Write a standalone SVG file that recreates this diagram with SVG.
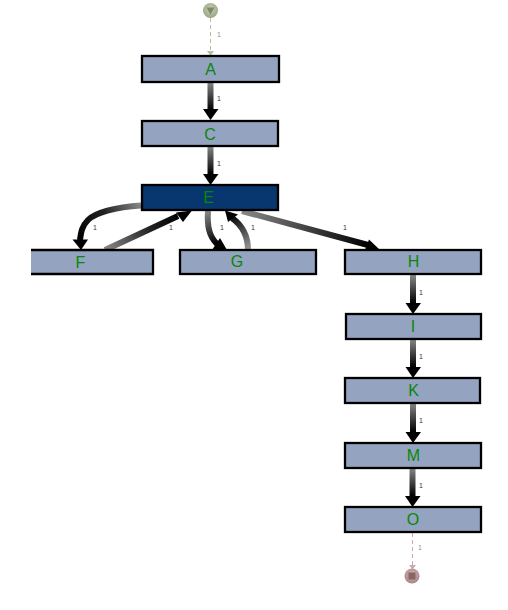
<svg xmlns="http://www.w3.org/2000/svg" width="508" height="610" viewBox="0 0 508 610">
<style>
.n{fill:#94a3bf;stroke:#000;stroke-width:2.300}
.t{font-family:"Liberation Sans",Arial,sans-serif;font-size:16px;fill:#0a860a;text-anchor:middle}
.l{font-family:"Liberation Sans",Arial,sans-serif;font-size:7px;fill:#333;text-anchor:middle}
.e{fill:none;stroke-width:6}
.h{fill:#000}
</style>
<defs>
<linearGradient id="g1" gradientUnits="userSpaceOnUse" x1="0" y1="82" x2="0" y2="110"><stop offset="0" stop-color="#888"/><stop offset="1" stop-color="#000"/></linearGradient>
<linearGradient id="g2" gradientUnits="userSpaceOnUse" x1="0" y1="146" x2="0" y2="174"><stop offset="0" stop-color="#888"/><stop offset="1" stop-color="#000"/></linearGradient>
<linearGradient id="gF" gradientUnits="userSpaceOnUse" x1="141" y1="205" x2="80" y2="240"><stop offset="0" stop-color="#888"/><stop offset=".5" stop-color="#222"/><stop offset="1" stop-color="#000"/></linearGradient>
<linearGradient id="gFE" gradientUnits="userSpaceOnUse" x1="105" y1="250" x2="180" y2="213"><stop offset="0" stop-color="#888"/><stop offset=".6" stop-color="#222"/><stop offset="1" stop-color="#000"/></linearGradient>
<linearGradient id="gG" gradientUnits="userSpaceOnUse" x1="208" y1="211" x2="218" y2="243"><stop offset="0" stop-color="#888"/><stop offset="1" stop-color="#000"/></linearGradient>
<linearGradient id="gGE" gradientUnits="userSpaceOnUse" x1="248" y1="250" x2="230" y2="216"><stop offset="0" stop-color="#999"/><stop offset="1" stop-color="#000"/></linearGradient>
<linearGradient id="gH" gradientUnits="userSpaceOnUse" x1="242" y1="211" x2="368" y2="246"><stop offset="0" stop-color="#888"/><stop offset="1" stop-color="#000"/></linearGradient>
<linearGradient id="g3" gradientUnits="userSpaceOnUse" x1="0" y1="275" x2="0" y2="303"><stop offset="0" stop-color="#888"/><stop offset="1" stop-color="#000"/></linearGradient>
<linearGradient id="g4" gradientUnits="userSpaceOnUse" x1="0" y1="339" x2="0" y2="367"><stop offset="0" stop-color="#888"/><stop offset="1" stop-color="#000"/></linearGradient>
<linearGradient id="g5" gradientUnits="userSpaceOnUse" x1="0" y1="403" x2="0" y2="432"><stop offset="0" stop-color="#888"/><stop offset="1" stop-color="#000"/></linearGradient>
<linearGradient id="g6" gradientUnits="userSpaceOnUse" x1="0" y1="468" x2="0" y2="496"><stop offset="0" stop-color="#888"/><stop offset="1" stop-color="#000"/></linearGradient>
<radialGradient id="gs" cx=".5" cy=".4" r=".6"><stop offset="0" stop-color="#c6cfb4"/><stop offset="1" stop-color="#9aa684"/></radialGradient>
<radialGradient id="ge" cx=".5" cy=".4" r=".6"><stop offset="0" stop-color="#d3b3b3"/><stop offset="1" stop-color="#ab8585"/></radialGradient>
</defs>
<g id="connectors">
<path d="M210.500 18V52" fill="none" stroke="#b2c0a2" stroke-width="1" stroke-dasharray="4 3"/>
<path d="M207 51H214L210.500 56Z" fill="#b2c0a2"/>
<path class="e" stroke="url(#g1)" d="M210.500 82V110"/><path class="h" d="M203 109H218.500L210.500 120Z"/>
<path class="e" stroke="url(#g2)" d="M210.500 146V175"/><path class="h" d="M203 174H218.500L210.500 185Z"/>
<path class="e" stroke="url(#gF)" d="M141 205.500C115 207 95 213 88 220C82 226 81 232 80 240"/><path class="h" d="M72.500 239.500H88L81 250Z"/>
<path class="e" stroke="url(#gFE)" d="M105 250L178 216"/><path class="h" d="M192 210.500L176 212.500L183 222Z"/>
<path class="e" stroke="url(#gG)" d="M208 211C207 226 209 236 217 244"/><path class="h" d="M212 250L227 250L220 238Z"/>
<path class="e" stroke="url(#gGE)" d="M248 250C248 238 243 226 232 218"/><path class="h" d="M225 210.500L228 222L238 214.500Z"/>
<path class="e" stroke="url(#gH)" d="M242 211L368 245"/><path class="h" d="M380 250L369 239.500L365 250Z"/>
<path class="e" stroke="url(#g3)" d="M413 275V304"/><path class="h" d="M405.500 303H421L413 314Z"/>
<path class="e" stroke="url(#g4)" d="M413 339V368"/><path class="h" d="M405.500 367H421L413 378Z"/>
<path class="e" stroke="url(#g5)" d="M413 403V433"/><path class="h" d="M405.500 432H421L413 443Z"/>
<path class="e" stroke="url(#g6)" d="M412.500 468V497"/><path class="h" d="M405 496H420.500L412.500 507Z"/>
<path d="M412.500 533V566" fill="none" stroke="#c8aaaa" stroke-width="1" stroke-dasharray="4 3"/>
<path d="M409 565H416L412.500 569.500Z" fill="#c8aaaa"/>
<text class="l" x="219" y="37" fill-opacity=".6">1</text>
<text class="l" x="219" y="101">1</text>
<text class="l" x="219" y="166">1</text>
<text class="l" x="95" y="230">1</text>
<text class="l" x="171" y="230">1</text>
<text class="l" x="222" y="230">1</text>
<text class="l" x="253" y="230">1</text>
<text class="l" x="345" y="230">1</text>
<text class="l" x="421" y="295">1</text>
<text class="l" x="421" y="359">1</text>
<text class="l" x="421" y="423">1</text>
<text class="l" x="421" y="488">1</text>
<text class="l" x="420" y="550" fill-opacity=".6">1</text>
</g>
<g id="start"><circle cx="210.500" cy="10.500" r="7.500" fill="url(#gs)"/><path d="M206.500 7.500H214.500L210.500 14.500Z" fill="#7c8a68"/></g>
<g id="A"><rect class="n" x="142" y="56" width="137" height="26"/><text class="t" x="210.500" y="75">A</text></g>
<g id="C"><rect class="n" x="142" y="121" width="136" height="25"/><text class="t" x="210" y="139.500">C</text></g>
<g id="E"><rect x="142" y="185" width="136" height="25" fill="#07376e" stroke="#000" stroke-width="2.300"/><text class="t" x="208.500" y="203">E</text></g>
<g id="F"><path d="M31 250H153V274H31Z" fill="#94a3bf"/><path d="M31 250H153V274H31" fill="none" stroke="#000" stroke-width="2.300"/><text class="t" x="80.500" y="268">F</text></g>
<g id="G"><rect class="n" x="180" y="250" width="136" height="24"/><text class="t" x="237" y="267">G</text></g>
<g id="H"><rect class="n" x="345" y="250" width="136" height="24"/><text class="t" x="413.500" y="267">H</text></g>
<g id="I"><rect class="n" x="346" y="314" width="135" height="25"/><text class="t" x="413" y="332">I</text></g>
<g id="K"><rect class="n" x="345" y="378" width="135" height="25"/><text class="t" x="413.500" y="396">K</text></g>
<g id="M"><rect class="n" x="345" y="443" width="136" height="25"/><text class="t" x="413.500" y="461">M</text></g>
<g id="O"><rect class="n" x="345" y="507" width="136" height="25"/><text class="t" x="413" y="525">O</text></g>
<g id="end"><circle cx="412" cy="576" r="7.500" fill="url(#ge)"/><rect x="408.500" y="572.500" width="7" height="7" fill="#8a6565"/></g>
</svg>
